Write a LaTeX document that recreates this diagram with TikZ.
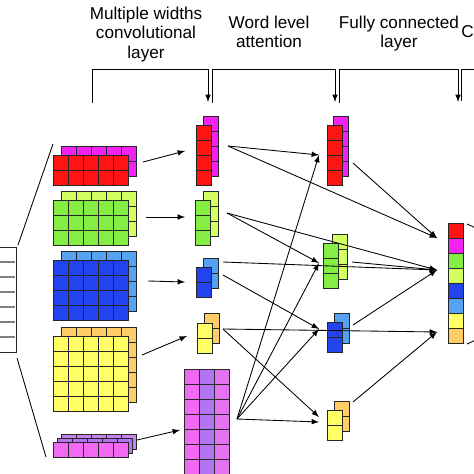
\documentclass[tikz,border=0pt]{standalone}
\usepackage{fontspec}
\setmainfont{Liberation Sans}
\usepackage{xcolor}
\usetikzlibrary{arrows,positioning}
\definecolor{cred}{HTML}{FF1414}
\definecolor{cmag}{HTML}{F222F0}
\definecolor{cgrn}{HTML}{84EE44}
\definecolor{clim}{HTML}{D2FF62}
\definecolor{cblu}{HTML}{2244EE}
\definecolor{csky}{HTML}{55A2F2}
\definecolor{cyel}{HTML}{FFFF66}
\definecolor{corg}{HTML}{FFCC66}
\definecolor{mpink}{HTML}{F26AF2}
\definecolor{mpurp}{HTML}{B274F2}
\definecolor{mlil}{HTML}{E274F2}
\definecolor{bpurp}{HTML}{C684EE}
\tikzset{%
	cell/.style   = {draw=black!85, line width=0.55pt},
	link/.style   = {line width=0.5pt},
	arrow/.style  = {line width=0.5pt,-latex},
	heading/.style= {align=center, inner sep=0pt, anchor=north, font=\fontsize{10}{11.3}\selectfont},
}
% name, x, y, columns, rows, colour
\newcommand{\blockgrid}[6]{%
	\foreach \c in {1,...,#4}{%
		\foreach \r in {1,...,#5}{%
			\draw[cell,fill=#6] ({#2+(\c-1)*15},{#3+(\r-1)*15}) rectangle +(15,15);
		}
	}
	\coordinate (#1) at (#2,#3);
}
\begin{document}
\begin{tikzpicture}[x=0.0205cm,y=-0.0205cm]
	\useasboundingbox (0,0) rectangle (474,474);
	\clip (0,0) rectangle (474,474);
	% headings
	\node[heading] (hconv) at (146,6.5) {Multiple widths\\convolutional\\layer};
	\node[heading] (hatt) at (269,15.5) {Word level\\attention};
	\node[heading] (hfc) at (399,15.5) {Fully connected\\layer};
	\node[inner sep=0pt,anchor=base west,font=\fontsize{10}{11.3}\selectfont] (hout) at (461,38) {C};
	% brackets
	\draw[arrow] (92,103) |- (208,69) -- (208,102);
	\draw[arrow] (212,103) |- (335,69) -- (335,102);
	\draw[arrow] (339,103) |- (458,69) -- (458,102);
	\draw[link] (461,101) |- (478,69);
	% input sentence
	\draw[cell,fill=white] (-10,247) rectangle (16,352);
	\foreach \y in {262,277,...,337}
		\draw[gray,line width=0.6pt] (-10,\y) -- (15,\y);
	\coordinate (in-top) at (18,245);
	\coordinate (in-bot) at (17,358);
	% feature maps
	\blockgrid{fm1b}{61}{146}{5}{2}{cmag}
	\blockgrid{fm1}{53}{155}{5}{2}{cred}
	\blockgrid{fm2b}{61}{191}{5}{3}{clim}
	\blockgrid{fm2}{53}{200}{5}{3}{cgrn}
	\blockgrid{fm3b}{61}{251}{5}{4}{csky}
	\blockgrid{fm3}{53}{260}{5}{4}{cblu}
	\blockgrid{fm4b}{61}{327}{5}{5}{corg}
	\blockgrid{fm4}{53}{336}{5}{5}{cyel}
	\blockgrid{fm5c}{61}{434}{5}{1}{bpurp}
	\blockgrid{fm5b}{57}{438}{5}{1}{mpurp}
	\blockgrid{fm5}{53}{442}{5}{1}{mpink}
	\draw[link] (in-top) -- (53,144);
	\draw[link] (in-bot) -- (46,457);
	% pooled vectors
	\blockgrid{pv1b}{203}{116}{1}{4}{cmag}
	\blockgrid{pv1}{196}{125}{1}{4}{cred}
	\blockgrid{pv2b}{203}{191}{1}{3}{clim}
	\blockgrid{pv2}{195}{200}{1}{3}{cgrn}
	\blockgrid{pv3b}{203}{258}{1}{2}{csky}
	\blockgrid{pv3}{196}{267}{1}{2}{cblu}
	\blockgrid{pv4b}{204}{313}{1}{2}{corg}
	\blockgrid{pv4}{197}{323}{1}{2}{cyel}
	% context matrix
	\foreach \col [count=\i] in {mpink,mpurp,mlil}
		\foreach \r in {0,...,7}
			\draw[cell,fill=\col] ({184+(\i-1)*15},{369+\r*15}) rectangle +(15,15);
	% attention outputs
	\blockgrid{at1b}{333}{116}{1}{4}{cmag}
	\blockgrid{at1}{327}{125}{1}{4}{cred}
	\blockgrid{at2b}{332}{234}{1}{3}{clim}
	\blockgrid{at2}{323}{243}{1}{3}{cgrn}
	\blockgrid{at3b}{334}{313}{1}{2}{csky}
	\blockgrid{at3}{327}{322}{1}{2}{cblu}
	\blockgrid{at4b}{334}{401}{1}{2}{corg}
	\blockgrid{at4}{327}{410}{1}{2}{cyel}
	% output vector
	\foreach \col [count=\i] in {cred,cmag,cgrn,clim,cblu,csky,cyel,corg}
		\draw[cell,fill=\col] (448,{223+(\i-1)*15}) rectangle +(15,15);
	\draw[link] (467,224) -- (478,229);
	\draw[link] (467,344) -- (478,339);
	% ports
	\coordinate (fm1-o) at (143,162);
	\coordinate (fm2-o) at (146,217);
	\coordinate (fm3-o) at (148,281);
	\coordinate (fm4-o) at (142,355);
	\coordinate (fm5-o) at (137,440);
	\coordinate (pv1-i) at (185,151);
	\coordinate (pv2-i) at (185,217);
	\coordinate (pv3-i) at (185,282);
	\coordinate (pv4-i) at (187,336);
	\coordinate (cm-i) at (180,430);
	\coordinate (pv1-o) at (228,146);
	\coordinate (pv2-o) at (227,213);
	\coordinate (pv3-o) at (223,262);
	\coordinate (pv3-p) at (223,275);
	\coordinate (pv4-o) at (223,329);
	\coordinate (cm-o) at (237,419);
	\coordinate (at1-i) at (319,155);
	\coordinate (at2-i) at (319,263);
	\coordinate (at3-i) at (319,329);
	\coordinate (at4-i) at (319,417);
	\coordinate (at4-j) at (319,422);
	\coordinate (at1-o) at (353,163);
	\coordinate (at2-o) at (352,262);
	\coordinate (at3-o) at (353,325);
	\coordinate (at4-o) at (353,402);
	\coordinate (ov-a) at (437,238);
	\coordinate (ov-b) at (437,270);
	\coordinate (ov-c) at (437,332);
	% convolution to pooling
	\draw[arrow] (fm1-o) -- (pv1-i);
	\draw[arrow] (fm2-o) -- (pv2-i);
	\draw[arrow] (fm3-o) -- (pv3-i);
	\draw[arrow] (fm4-o) -- (pv4-i);
	\draw[arrow] (fm5-o) -- (cm-i);
	% pooling to attention
	\draw[arrow] (pv1-o) -- (at1-i);
	\draw[arrow] (pv2-o) -- (at2-i);
	\draw[arrow] (pv3-p) -- (at3-i);
	\draw[arrow] (pv4-o) -- (at4-i);
	\foreach \t in {at1-i,at2-i,at3-i,at4-j}
		\draw[arrow] (cm-o) -- (\t);
	% to output
	\draw[arrow] (pv1-o) -- (ov-a);
	\draw[arrow] (pv2-o) -- (ov-b);
	\draw[arrow] (pv3-o) -- (ov-b);
	\draw[arrow] (pv4-o) -- (ov-c);
	\draw[arrow] (at1-o) -- (ov-a);
	\draw[arrow] (at2-o) -- (ov-b);
	\draw[arrow] (at3-o) -- (ov-b);
	\draw[arrow] (at4-o) -- (ov-c);
\end{tikzpicture}
\end{document}
